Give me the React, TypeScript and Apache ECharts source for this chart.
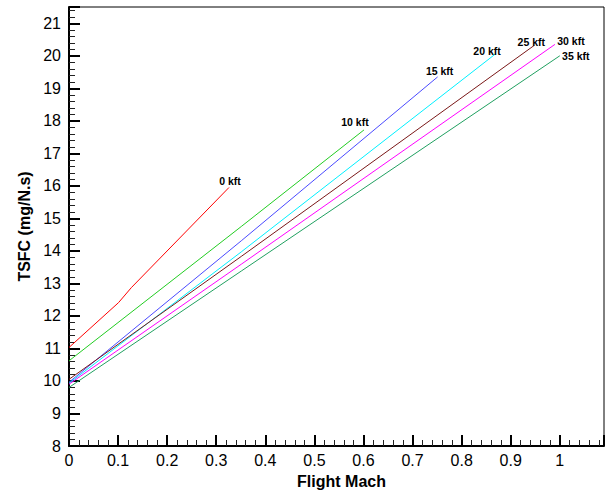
import React, { useEffect, useRef } from "react";
import * as echarts from "echarts";

const seriesNames = ["0 kft", "10 kft", "15 kft", "20 kft", "25 kft", "30 kft", "35 kft"];
const machAlt0 = [0, 0.101, 0.127, 0.326];
const tsfcAlt0 = [11.03, 12.41, 12.87, 15.95];
const machAlt10 = [0, 0.351, 0.601];
const tsfcAlt10 = [10.62, 14.75, 17.72];
const machAlt15 = [0, 0.351, 0.751];
const tsfcAlt15 = [9.96, 14.31, 19.35];
const machAlt20 = [0, 0.351, 0.87];
const tsfcAlt20 = [9.93, 13.97, 20.07];
const machAlt25 = [0, 0.351, 0.948];
const tsfcAlt25 = [10.05, 13.83, 20.32];
const machAlt30 = [0, 0.351, 0.99];
const tsfcAlt30 = [9.9, 13.59, 20.35];
const machAlt35 = [0, 0.351, 1.0];
const tsfcAlt35 = [9.8, 13.38, 20.0];

const machs = [machAlt0, machAlt10, machAlt15, machAlt20, machAlt25, machAlt30, machAlt35];
const tsfcs = [tsfcAlt0, tsfcAlt10, tsfcAlt15, tsfcAlt20, tsfcAlt25, tsfcAlt30, tsfcAlt35];

const colors = ["#ff0000", "#22cc22", "#4a4aff", "#00f0ff", "#7a1818", "#ff00ff", "#20a060"];
const labelOffsets: [number, number][] = [
  [1, -6],
  [-9, -8],
  [2, -6],
  [-9, -3],
  [-3, -3],
  [16, -3],
  [16, 0],
];

export default function App() {
  const ref = useRef<HTMLDivElement>(null);
  useEffect(() => {
    if (!ref.current) return;
    const chart = echarts.init(ref.current, undefined, { renderer: "svg" });
    const font = "Liberation Sans, Arial, sans-serif";
    const series = seriesNames.map((name, i) => {
      const data = machs[i].map((m, j) => [m, tsfcs[i][j]]);
      const last = data[data.length - 1];
      return {
        name,
        type: "line",
        data,
        symbol: "none",
        lineStyle: { color: colors[i], width: 1 },
        itemStyle: { color: colors[i] },
        markPoint: {
          symbol: "circle",
          symbolSize: 0,
          data: [{ coord: last }],
          label: {
            show: true,
            position: "inside",
            offset: labelOffsets[i],
            formatter: name,
            color: "#000",
            fontFamily: font,
            fontWeight: "bold",
            fontSize: 10.5,
          },
        },
      };
    });
    chart.setOption({
      animation: false,
      backgroundColor: "#fff",
      grid: {
        left: 69,
        right: 4,
        top: 7,
        bottom: 47,
        show: true,
        borderColor: "#000",
        borderWidth: 1,
      },
      xAxis: {
        type: "value",
        min: 0,
        max: 1.09,
        interval: 0.1,
        name: "Flight Mach",
        nameLocation: "middle",
        nameGap: 27,
        nameTextStyle: { fontFamily: font, fontWeight: "bold", fontSize: 16, color: "#000", padding: [0, 0, 0, 10] },
        axisLine: { show: true, lineStyle: { color: "#000", width: 2 } },
        axisTick: { show: true, inside: true, length: 11, lineStyle: { color: "#000", width: 2 } },
        minorTick: { show: true, splitNumber: 5, length: 6, lineStyle: { color: "#222", width: 1 } },
        splitLine: { show: false },
        axisLabel: {
          color: "#000",
          fontFamily: font,
          fontSize: 16,
          margin: 6,
          showMaxLabel: false,
          formatter: (v: number) => String(Math.round(v * 10) / 10),
        },
      },
      yAxis: {
        type: "value",
        min: 8,
        max: 21.5,
        interval: 1,
        name: "TSFC (mg/N.s)",
        nameLocation: "middle",
        nameGap: 34,
        nameTextStyle: { fontFamily: font, fontWeight: "bold", fontSize: 16, color: "#000" },
        axisLine: { show: true, lineStyle: { color: "#000", width: 2 } },
        axisTick: { show: true, inside: true, length: 11, lineStyle: { color: "#000", width: 2 } },
        minorTick: { show: true, splitNumber: 5, length: 6, lineStyle: { color: "#222", width: 1 } },
        splitLine: { show: false },
        axisLabel: {
          color: "#000",
          fontFamily: font,
          fontSize: 16,
          margin: 8,
          showMaxLabel: false,
        },
      },
      series,
    });
    return () => chart.dispose();
  }, []);
  return (
    <div
      ref={ref}
      style={{ position: "fixed", left: 0, top: 0, width: 608, height: 494, background: "#fff" }}
    />
  );
}
